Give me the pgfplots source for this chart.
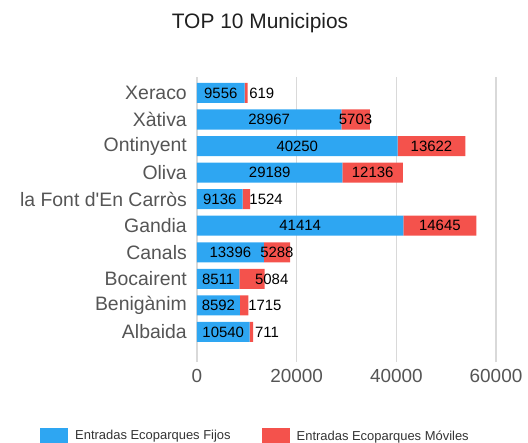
\documentclass[border=0pt]{standalone}
\usepackage{pgfplots}
\pgfplotsset{compat=1.18}
\usepackage{pgfplotstable}
\usepackage{fontspec}
\setmainfont{Liberation Sans}

\definecolor{fijos}{RGB}{46,166,242}
\definecolor{moviles}{RGB}{244,82,76}
\definecolor{labgray}{RGB}{85,85,85}
\definecolor{gridgray}{RGB}{217,217,217}

% y: 0 = Albaida ... 9 = Xeraco
\pgfplotstableread{
y fijos moviles
0 10540 711
1 8592 1715
2 8511 5084
3 13396 5288
4 41414 14645
5 9136 1524
6 29189 12136
7 40250 13622
8 28967 5703
9 9556 619
}\datatable

% label positions (x = centre of the printed value)
\pgfplotstableread{
x y l
5270 0 10540
4296 1 8592
4255 2 8511
6698 3 13396
20707 4 41414
4568 5 9136
14594 6 29189
20125 7 40250
14483 8 28967
4778 9 9556
14030 0 711
13630 1 1715
15000 2 5084
16040 3 5288
48736 4 14645
13870 5 1524
35257 6 12136
47061 7 13622
31818 8 5703
13000 9 619
}\labeltable

\begin{document}
\begin{tikzpicture}
\useasboundingbox (-197bp,-81bp) rectangle (331bp,362bp);
\pgfplotsset{
  common/.style={
    scale only axis,
    width=299bp, height=285bp,
    at={(0,0)}, anchor=south west,
    xmin=0, xmax=60000,
    ymin=-1.13, ymax=9.6,
  }
}
\begin{axis}[
  common,
  xbar stacked,
  bar width=20bp,
  axis line style={draw=none},
  major tick length=0pt,
  xmajorgrids,
  major grid style={gridgray, line width=1.3bp},
  scaled x ticks=false,
  xtick={0,20000,40000,60000},
  xticklabels={0,20000,40000,60000},
  ytick={0,...,9},
  yticklabels={Albaida,Benigànim,Bocairent,Canals,Gandia,la Font d\textquotesingle En Carròs,Oliva,Ontinyent,Xàtiva,Xeraco},
  xticklabel style={anchor=base, inner sep=0pt, yshift=-20bp, font=\fontsize{19}{22}\selectfont, text=labgray},
  yticklabel style={anchor=east, inner sep=0pt, xshift=-10bp, font=\fontsize{19.5}{22}\selectfont, text=labgray},
  legend columns=2,
  legend style={at={(-0.5251,-0.2596)}, anchor=west, draw=none, fill=none,
    inner sep=0pt, font=\fontsize{13}{15}\selectfont, text=black!80,
    /tikz/every odd column/.append style={column sep=5bp},
    /tikz/every even column/.append style={column sep=29bp}},
  legend image code/.code={\fill[#1] (0bp,-8bp) rectangle (28bp,8bp);},
]
\addplot[fill=fijos, draw=none] table[x=fijos, y=y] {\datatable};
\addlegendentry{Entradas Ecoparques Fijos}
\addplot[fill=moviles, draw=none] table[x=moviles, y=y] {\datatable};
\addlegendentry{Entradas Ecoparques Móviles}
\end{axis}
\begin{axis}[
  common,
  hide axis,
  clip=false,
]
\addplot[draw=none, nodes near coords, point meta=explicit symbolic,
  every node near coord/.append style={anchor=center, inner sep=0pt, text=black, font=\fontsize{15}{18}\selectfont}]
  table[x=x, y=y, meta=l] {\labeltable};
\end{axis}
\node[anchor=base, font=\fontsize{21}{25}\selectfont, text=black!88] at (63bp,333.7bp) {TOP 10 Municipios};
\end{tikzpicture}
\end{document}
